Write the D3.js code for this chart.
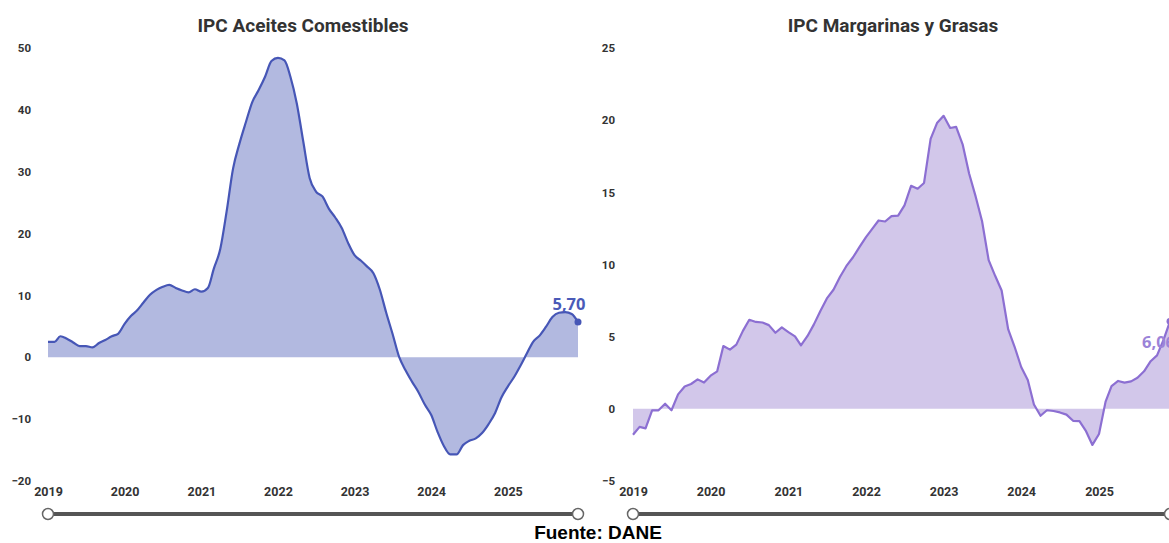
<!DOCTYPE html>
<html>
<head>
<meta charset="utf-8">
<script src="https://cdn.jsdelivr.net/npm/d3@7"></script>
<style>
  body { margin: 0; background: #fff; overflow: hidden; }
</style>
</head>
<body>
<div id="chart"></div>
<script>
// monthly variation, Jan 2019 - Dec 2025
var aceites = [2.5, 2.5, 3.4, 3.0, 2.4, 1.8, 1.8, 1.6, 2.3, 2.8, 3.4, 3.8,
  5.4, 6.7, 7.6, 8.9, 10.1, 10.9, 11.4, 11.7, 11.2, 10.8, 10.5, 11.0,
  10.6, 11.2, 14.3, 17.5, 23.5, 30.5, 34.5, 38.0, 41.3, 43.2, 45.4, 47.9,
  48.4, 48.0, 45.4, 41.0, 35.0, 29.0, 26.8, 26.0, 24.0, 22.6, 20.9, 18.5,
  16.5, 15.6, 14.7, 13.6, 11.0, 7.2, 3.8, 0.1, -2.1, -3.9, -5.6, -7.6,
  -9.3, -12.1, -14.3, -15.7, -15.7, -14.2, -13.5, -13.1, -12.2, -10.8, -9.0, -6.5,
  -4.7, -3.1, -1.4, 0.6, 2.5, 3.5, 4.9, 6.5, 7.2, 7.3, 7.0, 5.7];

var margarinas = [-1.8, -1.25, -1.35, -0.1, -0.1, 0.35, -0.1, 1.0, 1.55, 1.72, 2.04, 1.82,
  2.3, 2.6, 4.35, 4.1, 4.45, 5.4, 6.17, 6.02, 5.98, 5.8, 5.27, 5.64,
  5.32, 5.02, 4.4, 5.05, 5.85, 6.8, 7.65, 8.25, 9.15, 9.9, 10.5, 11.2,
  11.9, 12.5, 13.05, 12.98, 13.35, 13.39, 14.1, 15.45, 15.25, 15.65, 18.7, 19.8,
  20.3, 19.46, 19.53, 18.3, 16.3, 14.7, 13.0, 10.3, 9.2, 8.2, 5.5, 4.3,
  2.9, 2.0, 0.3, -0.48, -0.1, -0.15, -0.25, -0.4, -0.83, -0.85, -1.55, -2.5,
  -1.74, 0.5, 1.58, 1.93, 1.82, 1.9, 2.15, 2.6, 3.3, 3.7, 4.8, 6.06];

var leftTicks = [-20, -10, 0, 10, 20, 30, 40, 50];
var rightTicks = [-5, 0, 5, 10, 15, 20, 25];
var lastLabels = ["5,70", "6,06"];
var titles = ["IPC Aceites Comestibles", "IPC Margarinas y Grasas"];

var months = d3.timeMonths(new Date(2019, 0, 1), new Date(2026, 0, 1));

var w = 1169;
var h = 543;
var svg = d3.select("#chart")
  .append("svg")
  .attr("width", w)
  .attr("height", h);

var panels = [
  { values: aceites, ticks: leftTicks, title: titles[0], label: lastLabels[0],
    x0: 48, x1: 578, yMin: -20, yMax: 50, tickX: 31, titleX: 303,
    line: "#4656b6", fill: "#b2b9e0", lab: "#4a5ab8", curve: d3.curveMonotoneX,
    labX: 569, labY: 310, labAnchor: "middle", slider: [48, 578] },
  { values: margarinas, ticks: rightTicks, title: titles[1], label: lastLabels[1],
    x0: 633, x1: 1170, yMin: -5, yMax: 25, tickX: 615, titleX: 893,
    line: "#8c6fd2", fill: "#d2c7ea", lab: "#9b83d8", curve: d3.curveLinear,
    labX: 1142, labY: 348, labAnchor: "start", slider: [633, 1170] }
];

panels.forEach(function(p) {
  var x = d3.scaleTime().domain([months[0], months[months.length - 1]]).range([p.x0, p.x1]);
  var y = d3.scaleLinear().domain([p.yMin, p.yMax]).range([481, 48]);
  var data = months.map(function(m, i) { return { date: m, value: p.values[i] }; });

  var g = svg.append("g");

  g.append("path")
    .datum(data)
    .attr("fill", p.fill)
    .attr("d", d3.area().curve(p.curve)
      .x(function(d) { return x(d.date); })
      .y0(y(0))
      .y1(function(d) { return y(d.value); }));

  g.append("path")
    .datum(data)
    .attr("fill", "none")
    .attr("stroke", p.line)
    .attr("stroke-width", 2.2)
    .attr("stroke-linejoin", "round")
    .attr("d", d3.line().curve(p.curve)
      .x(function(d) { return x(d.date); })
      .y(function(d) { return y(d.value); }));

  var last = data[data.length - 1];
  g.append("circle")
    .attr("cx", x(last.date))
    .attr("cy", y(last.value))
    .attr("r", 3.5)
    .attr("fill", p.line);

  // last value label (right one runs off the edge like the original)
  g.append("text")
    .attr("x", p.labX)
    .attr("y", p.labY)
    .attr("text-anchor", p.labAnchor)
    .attr("font-family", "Open Sans, sans-serif")
    .attr("font-weight", 700)
    .attr("font-size", 16.5)
    .attr("fill", p.lab)
    .text(p.label);

  // y axis
  var ya = g.append("g")
    .attr("transform", "translate(" + p.tickX + ",0)")
    .call(d3.axisLeft(y).tickValues(p.ticks).tickSize(0).tickPadding(0));
  ya.select(".domain").remove();
  ya.selectAll("text")
    .attr("font-family", "Roboto, sans-serif")
    .attr("font-weight", 700)
    .attr("font-size", 11.5)
    .attr("fill", "#333");

  // x axis
  var xa = g.append("g")
    .attr("transform", "translate(0,487)")
    .call(d3.axisBottom(x).ticks(d3.timeYear.every(1)).tickFormat(d3.timeFormat("%Y")).tickSize(0).tickPadding(0));
  xa.select(".domain").remove();
  xa.selectAll("text")
    .attr("font-family", "Roboto, sans-serif")
    .attr("font-weight", 700)
    .attr("font-size", 12.5)
    .attr("fill", "#333");

  g.append("text")
    .attr("x", p.titleX)
    .attr("y", 32)
    .attr("text-anchor", "middle")
    .attr("font-family", "Roboto, sans-serif")
    .attr("font-weight", 700)
    .attr("font-size", 19)
    .attr("fill", "#333")
    .text(p.title);

  // range slider
  g.append("line")
    .attr("x1", p.slider[0]).attr("x2", p.slider[1])
    .attr("y1", 514).attr("y2", 514)
    .attr("stroke", "#555")
    .attr("stroke-width", 4);
  g.selectAll("circle.knob")
    .data(p.slider)
    .enter()
    .append("circle")
    .attr("class", "knob")
    .attr("cx", function(d) { return d; })
    .attr("cy", 514)
    .attr("r", 5.5)
    .attr("fill", "#fff")
    .attr("stroke", "#666")
    .attr("stroke-width", 1.5);
});

svg.append("text")
  .attr("x", 598)
  .attr("y", 539)
  .attr("text-anchor", "middle")
  .attr("font-family", "Liberation Sans, Arial, sans-serif")
  .attr("font-weight", 700)
  .attr("font-size", 19)
  .attr("fill", "#000")
  .text("Fuente: DANE");
</script>
</body>
</html>
